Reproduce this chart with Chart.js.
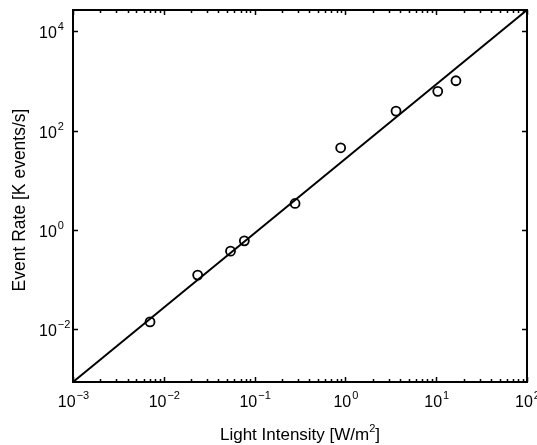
<!DOCTYPE html>
<html>
<head>
<meta charset="utf-8">
<script src="https://cdn.jsdelivr.net/npm/chart.js@4/dist/chart.umd.min.js"></script>
<style>
  body { margin: 0; background: #fff; }
  canvas { display: block; }
</style>
</head>
<body>
<canvas id="rateChart" width="537" height="445"></canvas>
<script>
// measured points
const intensity = [0.00705, 0.0236, 0.0543, 0.0771, 0.279, 0.887, 3.61, 10.4, 16.5];
const eventRate = [0.0142, 0.124, 0.376, 0.605, 3.42, 45.0, 246, 613, 1002];
// fitted line end points
const fitX = [0.001, 100];
const fitY = [0.00088, 26500];
// axis ranges and tick exponents
const xRange = [0.001, 100];
const yRange = [0.00088, 26500];
const xTickExp = [-3, -2, -1, 0, 1, 2];
const yTickExp = [-2, 0, 2, 4];
const xTitle = ["Light Intensity [W/m", "2", "]"];
const yTitle = "Event Rate [K events/s]";

const FONT = "'Liberation Sans', Arial, Helvetica, sans-serif";

function drawPower(ctx, exp, x, y, mode) {
  const base = "10";
  const sup = exp < 0 ? "\u2212" + Math.abs(exp) : String(exp);
  ctx.font = "16px " + FONT;
  const wBase = ctx.measureText(base).width;
  ctx.font = "11px " + FONT;
  const wSup = ctx.measureText(sup).width;
  let left;
  if (mode == "x") {
    left = x - (wBase + wSup) / 2;
  } else {
    left = x; // y labels start at the same x
  }
  ctx.textAlign = "left";
  ctx.textBaseline = "alphabetic";
  ctx.font = "16px " + FONT;
  ctx.fillText(base, left, y);
  ctx.font = "11px " + FONT;
  ctx.fillText(sup, left + wBase + 1, y - 8);
}

const framePlugin = {
  id: "frame",
  afterDraw(chart) {
    const ctx = chart.ctx;
    const area = chart.chartArea;
    const xs = chart.scales.x;
    const ys = chart.scales.y;
    ctx.save();
    ctx.strokeStyle = "#000";
    ctx.fillStyle = "#000";
    ctx.lineWidth = 1.5;

    // x ticks (major + minor) on bottom and top
    ctx.beginPath();
    xTickExp.forEach((e) => {
      for (let m = 1; m <= 9; m++) {
        const v = m * Math.pow(10, e);
        if (v > xRange[1] * 1.0001) break;
        const px = Math.round(xs.getPixelForValue(v)) + 0.5;
        const len = m == 1 ? 5 : 3;
        ctx.moveTo(px, area.bottom);
        ctx.lineTo(px, area.bottom - len);
        ctx.moveTo(px, area.top);
        ctx.lineTo(px, area.top + len);
      }
    });
    // y ticks on left and right
    yTickExp.forEach((e) => {
      const py = Math.round(ys.getPixelForValue(Math.pow(10, e))) + 0.5;
      ctx.moveTo(area.left, py);
      ctx.lineTo(area.left + 5, py);
      ctx.moveTo(area.right, py);
      ctx.lineTo(area.right - 5, py);
    });
    ctx.stroke();

    // box
    ctx.lineWidth = 2;
    ctx.strokeRect(area.left, area.top, area.right - area.left, area.bottom - area.top);

    // tick labels
    xTickExp.forEach((e) => {
      drawPower(ctx, e, xs.getPixelForValue(Math.pow(10, e)), area.bottom + 25, "x");
    });
    yTickExp.forEach((e) => {
      drawPower(ctx, e, 39, ys.getPixelForValue(Math.pow(10, e)) + 7, "y");
    });

    // x title with superscript
    ctx.font = "17px " + FONT;
    const w1 = ctx.measureText(xTitle[0]).width;
    const w3 = ctx.measureText(xTitle[2]).width;
    ctx.font = "11px " + FONT;
    const w2 = ctx.measureText(xTitle[1]).width;
    const cx = (area.left + area.right) / 2;
    let tx = cx - (w1 + w2 + w3) / 2;
    const ty = area.bottom + 58;
    ctx.textAlign = "left";
    ctx.font = "17px " + FONT;
    ctx.fillText(xTitle[0], tx, ty);
    ctx.font = "11px " + FONT;
    ctx.fillText(xTitle[1], tx + w1, ty - 8);
    ctx.font = "17px " + FONT;
    ctx.fillText(xTitle[2], tx + w1 + w2, ty);

    // y title
    ctx.translate(25, 200);
    ctx.rotate(-Math.PI / 2);
    ctx.textAlign = "center";
    ctx.font = "17.5px " + FONT;
    ctx.fillText(yTitle, 0, 0);
    ctx.restore();
  },
};

const ctx = document.getElementById("rateChart").getContext("2d");
const chart = new Chart(ctx, {
  type: "scatter",
  data: {
    datasets: [
      {
        label: "fit",
        data: fitX.map((x, i) => ({ x: x, y: fitY[i] })),
        showLine: true,
        borderColor: "#000",
        borderWidth: 2,
        pointRadius: 0,
        fill: false,
      },
      {
        label: "data",
        data: intensity.map((x, i) => ({ x: x, y: eventRate[i] })),
        showLine: false,
        borderColor: "#000",
        backgroundColor: "rgba(0,0,0,0)",
        borderWidth: 1.8,
        pointRadius: 4.5,
      },
    ],
  },
  options: {
    responsive: false,
    animation: false,
    layout: { padding: { left: 73, top: 10, right: 10, bottom: 63 } },
    plugins: { legend: { display: false }, tooltip: { enabled: false } },
    scales: {
      x: { type: "logarithmic", min: xRange[0], max: xRange[1], display: false },
      y: { type: "logarithmic", min: yRange[0], max: yRange[1], display: false },
    },
  },
  plugins: [framePlugin],
});
</script>
</body>
</html>
